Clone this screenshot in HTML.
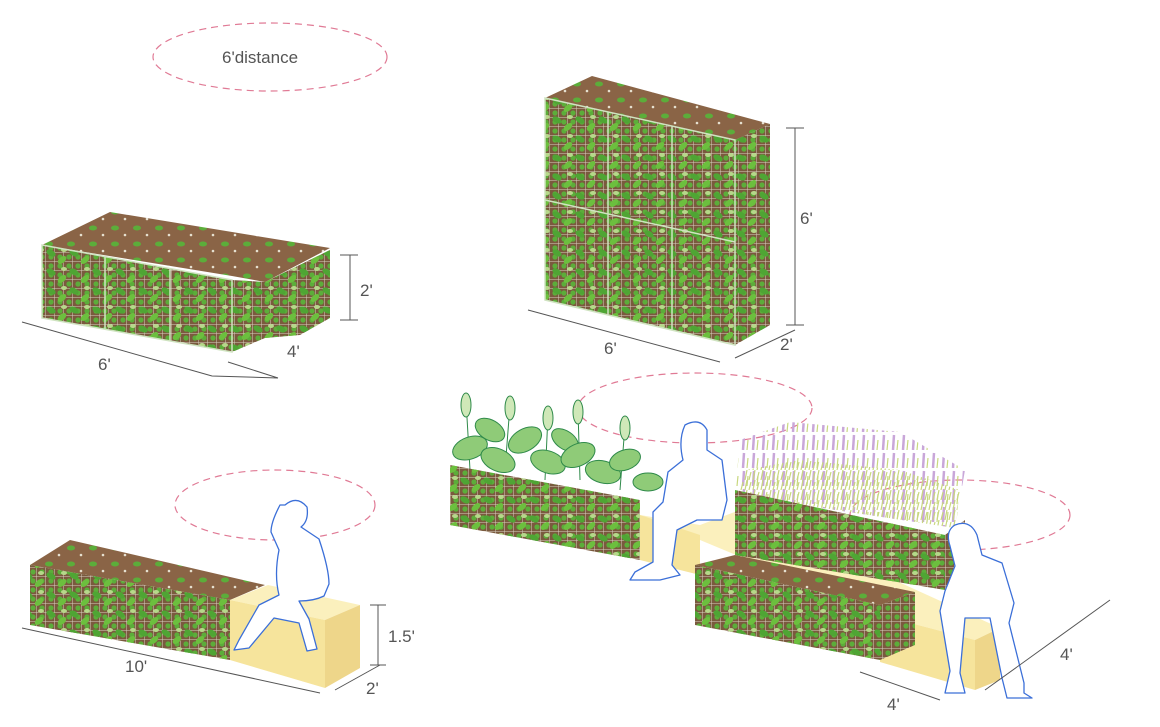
<!DOCTYPE html>
<html><head><meta charset="utf-8"><style>
html,body{margin:0;padding:0;background:#fff;}
svg{display:block;}
text{font-family:"Liberation Sans",sans-serif;fill:#555;}
</style></head><body>
<svg width="1160" height="727" viewBox="0 0 1160 727" xmlns="http://www.w3.org/2000/svg">
<defs>
<pattern id="mesh" width="9" height="9" patternUnits="userSpaceOnUse">
<rect width="9" height="9" fill="#7a5a3e"/>
<path d="M0 0H9M0 0V9" stroke="#d8cfc0" stroke-width="1"/>
<circle cx="6" cy="5" r="2.6" fill="#5cad3a"/>
</pattern>
<pattern id="leaf" width="23" height="19" patternUnits="userSpaceOnUse">
<ellipse cx="5" cy="6" rx="5" ry="3" fill="#4fa534" transform="rotate(30 5 6)"/>
<ellipse cx="16" cy="13" rx="5" ry="3" fill="#6cbf3e" transform="rotate(-40 16 13)"/>
<ellipse cx="18" cy="3" rx="3" ry="2" fill="#b6d88a"/>
</pattern>
<pattern id="soil" width="22" height="16" patternUnits="userSpaceOnUse">
<rect width="22" height="16" fill="#8a6446"/>
<ellipse cx="5" cy="4" rx="4" ry="2.5" fill="#5cad3a"/>
<circle cx="15" cy="11" r="1.3" fill="#e6e0d0"/>
</pattern>
<pattern id="lav" width="10" height="18" patternUnits="userSpaceOnUse">
<path d="M3 18L4 3" stroke="#c9a7d9" stroke-width="2.5"/>
<path d="M7 18L8 8" stroke="#c8d77e" stroke-width="1.2"/>
</pattern>
<pattern id="grass" width="8" height="10" patternUnits="userSpaceOnUse">
<path d="M1 10L3 0M5 10L7 2" stroke="#c8d77e" stroke-width="1.2"/>
</pattern>
</defs>

<g fill="none" stroke="#e07a95" stroke-width="1.2" stroke-dasharray="7 5">
<ellipse cx="270" cy="57" rx="117" ry="34"/>
<ellipse cx="275" cy="505" rx="100" ry="35"/>
<ellipse cx="695" cy="408" rx="117" ry="35"/>
<ellipse cx="960" cy="515" rx="110" ry="35"/>
</g>
<text x="222" y="63" font-size="17">6'distance</text>

<g>
<polygon points="42,245 110,212 330,248 265,282 232,276" fill="url(#soil)"/>
<polygon points="42,245 232,280 232,352 42,318" fill="url(#mesh)"/>
<polygon points="42,245 232,280 232,352 42,318" fill="url(#leaf)"/>
<polygon points="232,280 265,282 330,250 330,318 300,335 265,338 232,352" fill="url(#mesh)"/>
<polygon points="232,280 265,282 330,250 330,318 300,335 265,338 232,352" fill="url(#leaf)"/>
<path d="M42,245L232,280L232,352L42,318Z M105,256V330 M170,268V341" fill="none" stroke="#cfe3c0" stroke-width="1.5"/>
</g>

<g>
<polygon points="545,98 592,76 770,124 735,140" fill="url(#soil)"/>
<polygon points="545,98 735,140 735,345 545,300" fill="url(#mesh)"/>
<polygon points="545,98 735,140 735,345 545,300" fill="url(#leaf)"/>
<polygon points="735,140 770,124 770,325 735,345" fill="url(#mesh)"/>
<polygon points="735,140 770,124 770,325 735,345" fill="url(#leaf)"/>
<path d="M545,98L735,140L735,345L545,300Z M608,112V315 M672,126V330 M545,200L735,242" fill="none" stroke="#cfe3c0" stroke-width="1.5"/>
</g>

<g>
<polygon points="30,565 70,540 265,585 230,600" fill="url(#soil)"/>
<polygon points="30,565 230,600 230,660 30,625" fill="url(#mesh)"/>
<polygon points="30,565 230,600 230,660 30,625" fill="url(#leaf)"/>
<polygon points="230,600 268,585 360,605 325,620" fill="#fbf0bd"/>
<polygon points="230,600 325,620 325,688 230,660" fill="#f6e49c"/>
<polygon points="325,620 360,605 360,668 325,688" fill="#eed68a"/>
</g>

<g>
<g stroke="#2f8a4a" stroke-width="1" fill="#8fcb78">
<path d="M470,470 L466,400 M505,470 L510,405 M545,480 L548,415 M580,480 L578,410 M620,490 L625,425" fill="none"/>
<ellipse cx="466" cy="405" rx="5" ry="12" fill="#cfe8b8"/><ellipse cx="510" cy="408" rx="5" ry="12" fill="#cfe8b8"/>
<ellipse cx="548" cy="418" rx="5" ry="12" fill="#cfe8b8"/><ellipse cx="578" cy="412" rx="5" ry="12" fill="#cfe8b8"/>
<ellipse cx="625" cy="428" rx="5" ry="12" fill="#cfe8b8"/>
<ellipse cx="470" cy="448" rx="18" ry="11" transform="rotate(-20 470 448)"/>
<ellipse cx="490" cy="430" rx="16" ry="10" transform="rotate(30 490 430)"/>
<ellipse cx="498" cy="460" rx="18" ry="11" transform="rotate(25 498 460)"/>
<ellipse cx="525" cy="440" rx="18" ry="11" transform="rotate(-30 525 440)"/>
<ellipse cx="548" cy="462" rx="18" ry="11" transform="rotate(20 548 462)"/>
<ellipse cx="565" cy="440" rx="15" ry="9" transform="rotate(35 565 440)"/>
<ellipse cx="578" cy="455" rx="18" ry="11" transform="rotate(-25 578 455)"/>
<ellipse cx="603" cy="472" rx="18" ry="11" transform="rotate(15 603 472)"/>
<ellipse cx="625" cy="460" rx="16" ry="10" transform="rotate(-20 625 460)"/>
<ellipse cx="648" cy="482" rx="15" ry="9"/>
</g>
<polygon points="735,495 740,440 790,422 900,432 965,470 955,528" fill="url(#lav)"/>
<polygon points="738,495 745,470 800,460 900,470 960,490 955,528" fill="url(#grass)"/>
<polygon points="450,465 640,500 640,560 450,525" fill="url(#mesh)"/>
<polygon points="450,465 640,500 640,560 450,525" fill="url(#leaf)"/>
<polygon points="640,515 700,525 740,510 1000,628 975,640 880,615" fill="#fbf0bd"/>
<polygon points="640,515 700,535 700,575 640,560" fill="#f6e49c"/>
<polygon points="880,615 975,640 975,690 880,662" fill="#f6e49c"/>
<polygon points="975,640 1000,628 1000,680 975,690" fill="#eed68a"/>
<polygon points="735,490 945,535 945,590 735,555" fill="url(#mesh)"/>
<polygon points="735,490 945,535 945,590 735,555" fill="url(#leaf)"/>
<polygon points="945,535 965,520 965,575 945,590" fill="url(#mesh)"/>
<polygon points="695,565 735,555 915,592 880,605" fill="url(#soil)"/>
<polygon points="695,565 880,605 880,660 695,625" fill="url(#mesh)"/>
<polygon points="695,565 880,605 880,660 695,625" fill="url(#leaf)"/>
<polygon points="880,605 915,592 915,645 880,660" fill="url(#mesh)"/>
</g>

<g fill="#fff" stroke="#3b6fd8" stroke-width="1.3" stroke-linejoin="round">
<path d="M285,505 q12,-10 22,2 q2,14 -6,20 l18,12 q10,30 10,45 l-5,12 q-10,5 -25,5 l10,18 l8,30 l-10,2 l-8,-28 l-25,-5 l-25,30 l-15,2 l5,-10 l20,-35 l20,-10 q-5,-20 0,-45 l-8,-18 q0,-10 9,-27z"/>
<path d="M685,425 q15,-8 22,5 l0,20 l15,10 l5,40 l-5,20 l-25,0 l-20,10 l-5,35 l8,10 l-20,5 l-30,0 l5,-8 l18,-10 l0,-50 l10,-10 l5,-30 l15,-12 q-5,-20 2,-35z"/>
<path d="M955,525 q15,-6 22,10 l5,20 l20,8 l12,40 l-5,20 l15,60 l0,10 l8,5 l-25,0 l-5,-20 l-12,-60 l-25,0 l-5,55 l5,20 l-20,0 l5,-22 l-10,-60 l5,-20 l10,-25 l-5,-20 q-5,-15 5,-21z"/>
</g>

<g stroke="#555" stroke-width="1" fill="none">
<path d="M22,322L212,376 M212,376L278,378 M228,362L278,378 M350,255V320 M340,255H358 M340,320H358"/>
<path d="M795,128V325 M786,128H804 M786,325H804 M528,310L720,362 M735,358L795,330"/>
<path d="M22,628L320,693 M378,605V665 M370,605H386 M370,665H386 M335,690L380,665"/>
<path d="M860,672L940,700 M985,690L1110,600"/>
</g>
<g font-size="17">
<text x="98" y="370">6'</text><text x="287" y="357">4'</text><text x="360" y="296">2'</text>
<text x="800" y="224">6'</text><text x="604" y="354">6'</text><text x="780" y="350">2'</text>
<text x="125" y="672">10'</text><text x="388" y="642">1.5'</text><text x="366" y="694">2'</text>
<text x="887" y="710">4'</text><text x="1060" y="660">4'</text>
</g>
</svg>
</body></html>
